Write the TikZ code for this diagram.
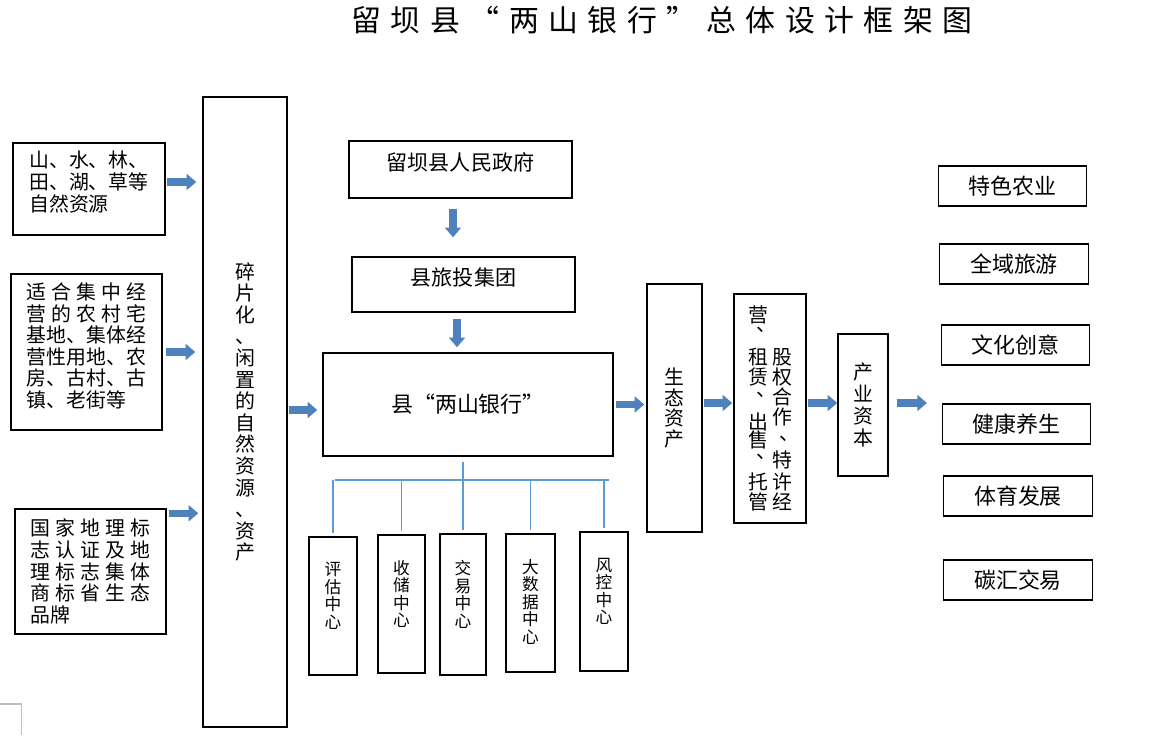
\documentclass[tikz,border=0pt]{standalone}
\usepackage{fontspec}
\setmainfont{Noto Sans CJK SC}
\usetikzlibrary{arrows.meta}

\definecolor{pijlblauw}{RGB}{79,129,189}
\definecolor{lijnblauw}{RGB}{91,155,213}
% liggende komma in een staande kolom, iets naar rechts
\newcommand{\dun}{\makebox[1em][l]{\hspace{0.4em}、}}
% staande kolom met vaste regelafstand
\newcommand{\kol}[1]{\vbox{\baselineskip=11.34pt\lineskiplimit=-20pt #1}}

\begin{document}
\begin{tikzpicture}[>=latex]

% --- Stijlen ---
\tikzset{
    vak/.style={
        draw,
        line width=0.8pt,
        inner sep=0pt,
        font=\fontsize{11.3}{12.3}\selectfont
    },
    linksvak/.style={vak, align=left},
    staand/.style={vak, align=center},
    centrum/.style={
        vak,
        align=center,
        font=\fontsize{9.5}{10}\selectfont,
        text depth=12pt
    },
    doelvak/.style={
        vak,
        line width=0.7pt,
        minimum width=2.97cm,
        minimum height=0.8cm,
        font=\fontsize{12.5}{14}\selectfont
    },
    blokpijl/.style={
        -{Triangle[width=9pt,length=5.5pt]},
        line width=4.3pt,
        draw=pijlblauw
    },
    boomlijn/.style={draw=lijnblauw, line width=0.7pt}
}

\useasboundingbox (0,0) rectangle (23.02,-14.9);

% --- Titel ---
\node[font=\fontsize{17}{20}\selectfont\addfontfeatures{LetterSpace=32,CharacterWidth=Full}] (titel) at (13.24,-0.4) {留坝县“两山银行”总体设计框架图};

% --- Bronnen links ---
\node[linksvak, minimum width=3.04cm, minimum height=1.84cm, text depth=9pt] (bron1) at (1.78,-3.78)
    {山、水、林、\\田、湖、草等\\自然资源};
\node[linksvak, minimum width=3.02cm, minimum height=3.12cm, text depth=7.8pt] (bron2) at (1.73,-7.04)
    {\makebox[6em][s]{适 合 集 中 经}\\\makebox[6em][s]{营 的 农 村 宅}\\基地、集体经\\营性用地、农\\房、古村、古\\镇、老街等};
\node[linksvak, minimum width=3.02cm, minimum height=2.5cm, font=\fontsize{11.3}{12.4}\selectfont] (bron3) at (1.81,-11.43)
    {\makebox[6em][s]{国 家 地 理 标}\\\makebox[6em][s]{志 认 证 及 地}\\\makebox[6em][s]{理 标 志 集 体}\\\makebox[6em][s]{商 标 省 生 态}\\品牌};
\node[staand, minimum width=1.68cm, minimum height=12.6cm] (rest) at (4.9,-8.24)
    {碎\\片\\化\\、\\闲\\置\\的\\自\\然\\资\\源\\、\\资\\产};

% --- Midden ---
\node[vak, minimum width=4.46cm, minimum height=1.14cm, font=\fontsize{12}{14}\selectfont, text depth=8.5pt] (overheid) at (9.21,-3.39) {留坝县人民政府};
\node[vak, minimum width=4.46cm, minimum height=1.1cm, font=\fontsize{12}{14}\selectfont, text depth=8.5pt] (lvt) at (9.27,-5.69) {县旅投集团};
\node[vak, minimum width=5.8cm, minimum height=2.06cm, font=\fontsize{12.5}{14}\selectfont\addfontfeatures{CharacterWidth=Full}] (bank) at (9.36,-8.09) {县“两山银行”};

\node[centrum, minimum width=0.96cm, minimum height=2.76cm] (pg) at (6.66,-12.12) {评\\估\\中\\心};
\node[centrum, minimum width=0.94cm, minimum height=2.76cm] (sc) at (8.03,-12.08) {收\\储\\中\\心};
\node[centrum, minimum width=0.92cm, minimum height=2.82cm] (jy) at (9.26,-12.09) {交\\易\\中\\心};
\node[centrum, minimum width=0.98cm, minimum height=2.76cm, text depth=2pt] (dsj) at (10.61,-12.06) {大\\数\\据\\中\\心};
\node[centrum, minimum width=0.96cm, minimum height=2.78cm] (fk) at (12.08,-12.03) {风\\控\\中\\心};

% --- Keten rechts ---
\node[staand, minimum width=1.1cm, minimum height=4.96cm, font=\fontsize{11.3}{11.9}\selectfont] (eco) at (13.49,-8.16) {生\\态\\资\\产};
\node[vak, minimum width=1.44cm, minimum height=4.58cm, font=\fontsize{11.3}{11.34}\selectfont] (beheer) at (15.4,-8.17)
    {\kol{\hbox{营}\vskip-6.2pt\hbox{\dun}\vskip7.4pt\hbox{租}\hbox{赁}\vskip-4.5pt\hbox{\dun}\vskip7.4pt\hbox{出}\vskip-1.1pt\hbox{售}\vskip-5.1pt\hbox{\dun}\vskip6.2pt\hbox{托}\hbox{管}}\hspace{2.3pt}%
     \kol{\hbox{股}\hbox{权}\hbox{合}\hbox{作}\vskip-2.3pt\hbox{\dun}\vskip4pt\hbox{特}\vskip1.1pt\hbox{许}\hbox{经}}};
\node[staand, minimum width=1.0cm, minimum height=2.84cm, font=\fontsize{11.3}{12.5}\selectfont] (kapitaal) at (17.26,-8.1) {产\\业\\资\\本};

\node[doelvak] (landbouw) at (20.25,-3.72) {特色农业};
\node[doelvak] (toerisme) at (20.28,-5.28) {全域旅游};
\node[doelvak] (cultuur) at (20.31,-6.9) {文化创意};
\node[doelvak] (gezond) at (20.33,-8.48) {健康养生};
\node[doelvak] (sport) at (20.36,-9.92) {体育发展};
\node[doelvak] (koolstof) at (20.36,-11.6) {碳汇交易};

% --- Blokpijlen ---
\draw[blokpijl, shorten <=0.02cm, shorten >=0.12cm] ([yshift=0.14cm]bron1.east) -- ([yshift=0.14cm]bron1.east -| rest.west);
\draw[blokpijl, shorten <=0.06cm, shorten >=0.14cm] (bron2.east) -- (bron2.east -| rest.west);
\draw[blokpijl, shorten <=0.04cm, shorten >=0.08cm] ([yshift=-0.1cm]bron3.north east) -- ([yshift=-0.1cm]bron3.north east -| rest.west);
\draw[blokpijl, shorten <=0.02cm, shorten >=0.1cm] ([yshift=-0.11cm]bank.west -| rest.east) -- ([yshift=-0.11cm]bank.west);

\draw[blokpijl, shorten <=0.2cm, shorten >=0.38cm] ([xshift=-0.15cm]overheid.south) -- ([xshift=-0.15cm]overheid.south |- lvt.north);
\draw[blokpijl, shorten <=0.12cm, shorten >=0.1cm] ([xshift=-0.13cm]lvt.south) -- ([xshift=-0.13cm]lvt.south |- bank.north);

\draw[blokpijl, shorten <=0.04cm, shorten >=0.04cm] (bank.east) -- (bank.east -| eco.west);
\draw[blokpijl, shorten <=0.02cm, shorten >=0.02cm] ([yshift=0.1cm]eco.east) -- ([yshift=0.1cm]eco.east -| beheer.west);
\draw[blokpijl, shorten <=0.02cm] ([yshift=0.11cm]beheer.east) -- ([yshift=0.11cm]beheer.east -| kapitaal.west);
\coordinate (uitgang) at (18.54,-8.06);
\draw[blokpijl, shorten <=0.16cm] (kapitaal.east |- uitgang) -- (uitgang);

% --- Boom naar de centra ---
\coordinate (tak) at (9.26,-9.6);
\draw[boomlijn, shorten <=0.1cm] (bank.south -| tak) -- (tak);
\draw[boomlijn] ([xshift=0.04cm]pg.north |- tak) -- ([xshift=0.1cm]fk.north |- tak);
\foreach \c in {pg,sc,jy,dsj,fk}
    \draw[boomlijn, shorten >=0.06cm] (\c.north |- tak) -- (\c.north);

% snijteken linksonder
\draw[gray!50, line width=0.6pt] (0,-14.08) -- (0.43,-14.08) -- (0.43,-14.7);

\end{tikzpicture}
\end{document}
